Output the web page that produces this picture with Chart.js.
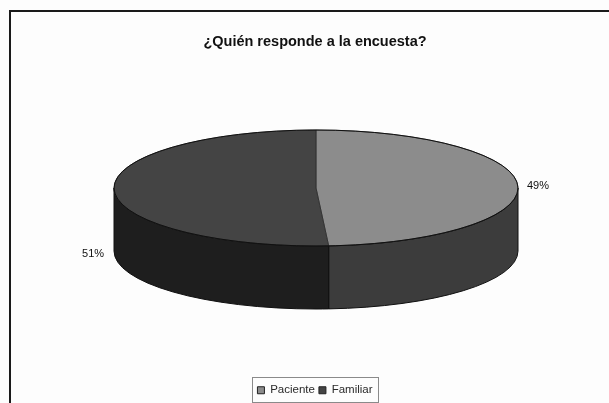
<!DOCTYPE html>
<html>
<head>
<meta charset="utf-8">
<script src="https://cdn.jsdelivr.net/npm/chart.js@4/dist/chart.umd.min.js"></script>
<style>
    html, body { margin: 0; padding: 0; background: #fdfdfd; }
    #wrap { position: relative; width: 609px; height: 403px; }
</style>
</head>
<body>
<div id="wrap"><canvas id="grafico_encuesta"></canvas></div>
<script>
const categorias = ['Paciente', 'Familiar']
const porcentajes = [49, 51]
const colores_cara = ['#8c8c8c', '#444444']
const colores_pared = ['#3c3c3c', '#1e1e1e']

// geometry of the tilted disc
const centro_x = 316
const centro_y = 188
const radio_x = 202
const radio_y = 58
const profundidad = 63
// how far each percent label sits from its slice's rim
const desplazamiento_etiquetas = [[9, 0], [-21, 64]]

const pastel3d = {
    id: 'pastel3d',
    beforeDraw(chart) {
        // page frame, open on the right and at the bottom
        const ctx = chart.ctx
        ctx.save()
        ctx.strokeStyle = '#1a1a1a'
        ctx.lineWidth = 2
        ctx.beginPath()
        ctx.moveTo(10, 403)
        ctx.lineTo(10, 11)
        ctx.lineTo(609, 11)
        ctx.stroke()
        ctx.restore()
    },
    beforeDatasetsDraw(chart) {
        const ctx = chart.ctx
        const arcos = chart.getDatasetMeta(0).data

        // side wall: only the part of each slice facing the viewer
        arcos.forEach((arco, i) => {
            const ini = Math.max(arco.startAngle, 0)
            const fin = Math.min(arco.endAngle, Math.PI)
            if (fin <= ini) return
            ctx.beginPath()
            ctx.ellipse(centro_x, centro_y, radio_x, radio_y, 0, ini, fin)
            ctx.ellipse(centro_x, centro_y + profundidad, radio_x, radio_y, 0, fin, ini, true)
            ctx.closePath()
            ctx.fillStyle = colores_pared[i]
            ctx.fill()
            ctx.strokeStyle = '#101010'
            ctx.lineWidth = 1
            ctx.stroke()
        })

        // squash the library's round pie into the top face
        const k = radio_y / radio_x
        ctx.save()
        ctx.translate(centro_x, centro_y)
        ctx.scale(1, k)
        ctx.translate(-arcos[0].x, -arcos[0].y)
    },
    afterDatasetsDraw(chart) {
        const ctx = chart.ctx
        ctx.restore()

        const arcos = chart.getDatasetMeta(0).data

        // crisp rim, the squash thins the arc borders
        ctx.strokeStyle = '#101010'
        ctx.lineWidth = 1
        ctx.beginPath()
        ctx.ellipse(centro_x, centro_y, radio_x, radio_y, 0, 0, Math.PI * 2)
        ctx.stroke()

        // percent labels
        ctx.font = '11px "Liberation Sans"'
        ctx.fillStyle = '#111111'
        ctx.textBaseline = 'middle'
        arcos.forEach((arco, i) => {
            const medio = (arco.startAngle + arco.endAngle) / 2
            const x = centro_x + Math.cos(medio) * radio_x + desplazamiento_etiquetas[i][0]
            const y = centro_y + Math.sin(medio) * radio_y + desplazamiento_etiquetas[i][1]
            ctx.textAlign = i === 0 ? 'left' : 'center'
            ctx.fillText(porcentajes[i] + '%', x, y)
        })
    },
    afterDraw(chart) {
        // legend box
        const ctx = chart.ctx
        ctx.save()
        ctx.strokeStyle = '#8a8a8a'
        ctx.lineWidth = 1
        ctx.strokeRect(252.5, 377.5, 126, 25)
        ctx.restore()
    }
}

new Chart(document.getElementById('grafico_encuesta'), {
    type: 'pie',
    data: {
        labels: categorias,
        datasets: [{
            data: porcentajes,
            backgroundColor: colores_cara,
            borderColor: '#222222',
            borderWidth: 1,
            clip: false
        }]
    },
    options: {
        responsive: true,
        maintainAspectRatio: false,
        animation: false,
        radius: radio_x,
        layout: { padding: { left: 21, bottom: -3 } },
        plugins: {
            title: {
                display: true,
                text: '¿Quién responde a la encuesta?',
                color: '#111111',
                font: { family: '"Liberation Sans"', size: 14.5, weight: 'bold' },
                padding: { top: 33, bottom: 0 }
            },
            legend: {
                position: 'bottom',
                labels: {
                    color: '#2a2a2a',
                    font: { family: '"Liberation Sans"', size: 11.5 },
                    boxWidth: 7,
                    boxHeight: 7,
                    padding: 4
                }
            },
            tooltip: { enabled: false }
        }
    },
    plugins: [pastel3d]
})
</script>
</body>
</html>
